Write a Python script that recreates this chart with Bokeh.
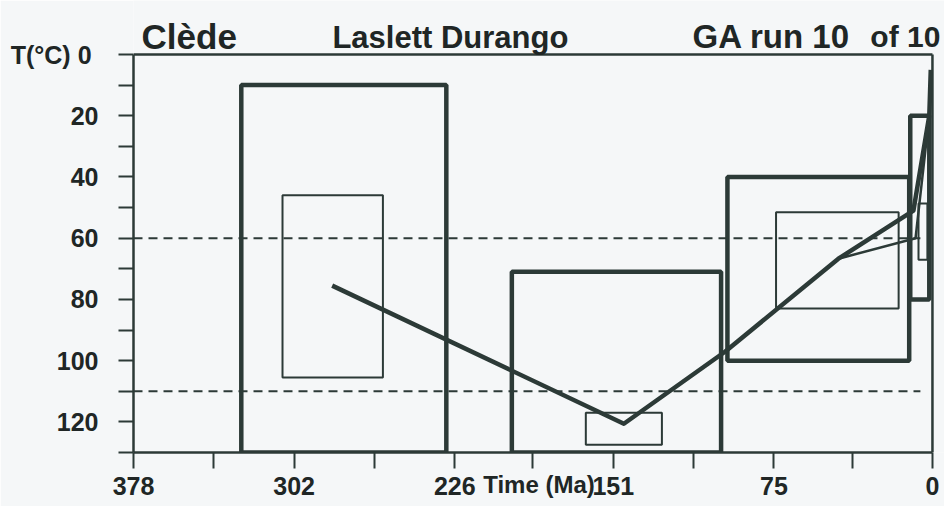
from bokeh.plotting import figure
from bokeh.models import Range1d, FixedTicker, Label
from bokeh.embed import file_html
from bokeh.resources import INLINE

# ---- data ----
# outer (thick) constraint boxes: time in Ma, temperature in degC
box_left = [327, 199, 97, 10.5]
box_right = [230, 100, 11, 1.5]
box_top = [10, 71, 40, 20]
box_bottom = [130, 130, 100, 80]

# inner (thin) boxes
inner_left = [307.5, 164, 74, 6.6]
inner_right = [260, 128, 16, 2.4]
inner_top = [46, 117, 51.5, 48.7]
inner_bottom = [105.5, 127.5, 83, 67]

# best-fit thermal history path
path_t = [284, 146, 98, 44.5, 9, 1.5, 0.8]
path_T = [75.5, 120.6, 97, 66.7, 51, 20, 5]

# secondary path branch
alt_t = [44.5, 8, 1.5]
alt_T = [66.7, 60, 20]

# partial annealing zone limits
paz_T = [60, 110]
paz_t_start = 378
paz_t_end = 5.7

t_max, t_min = 378, 0
T_min, T_max = 0, 130

x_ticks = [378, 302, 226, 151, 75, 0]
x_minor = [340, 264, 189, 113, 38]
y_ticks = [0, 20, 40, 60, 80, 100, 120]
y_minor = [10, 30, 50, 70, 90, 110, 130]

INK = "#2c3a37"
TXT = "#202625"
BG = "#f5f7f8"
FONT = "Liberation Sans"

p = figure(width=944, height=506, output_backend="svg", toolbar_location=None,
           x_range=Range1d(378, -5.7), y_range=Range1d(130, -17.64),
           min_border_left=133, min_border_right=0, min_border_top=0, min_border_bottom=54)
p.background_fill_color = BG
p.border_fill_color = BG
p.outline_line_color = None
p.grid.visible = False

# axes
for ax in (p.xaxis[0], p.yaxis[0]):
    ax.axis_line_color = INK
    ax.axis_line_width = 2.5
    ax.major_tick_line_color = INK
    ax.minor_tick_line_color = INK
    ax.major_tick_line_width = 2
    ax.minor_tick_line_width = 2
    ax.major_tick_in = 0
    ax.minor_tick_in = 0
    ax.major_label_text_font = FONT
    ax.major_label_text_font_style = "bold"
    ax.major_label_text_font_size = "25px"
    ax.major_label_text_color = TXT

p.xaxis.bounds = (t_min, t_max)
p.xaxis.ticker = FixedTicker(ticks=x_ticks, minor_ticks=x_minor)
p.xaxis.major_tick_out = 16
p.xaxis.minor_tick_out = 16
p.xaxis.major_label_standoff = 8
p.xaxis.axis_label = "Time (Ma)"
p.xaxis.axis_label_text_font = FONT
p.xaxis.axis_label_text_font_style = "bold"
p.xaxis.axis_label_text_font_size = "24px"
p.xaxis.axis_label_text_color = TXT
p.xaxis.axis_label_standoff = -27

p.yaxis.bounds = (T_min, T_max)
p.yaxis.ticker = FixedTicker(ticks=y_ticks, minor_ticks=y_minor)
p.yaxis.major_tick_out = 15
p.yaxis.minor_tick_out = 15
p.yaxis.major_label_standoff = 20
p.yaxis.major_label_overrides = {0: "T(°C)  0"}

# frame lines (top and right)
p.line([t_max, t_min], [T_min, T_min], line_color=INK, line_width=2.5)
p.line([t_min, t_min], [T_min, T_max], line_color=INK, line_width=2.5)

# PAZ dashed lines
for T in paz_T:
    p.line([paz_t_start, paz_t_end], [T, T], line_color=INK, line_width=2, line_dash="9 6")

# boxes
p.quad(left=box_left, right=box_right, top=box_top, bottom=box_bottom,
       fill_alpha=0, line_color=INK, line_width=4.5)
p.quad(left=inner_left, right=inner_right, top=inner_top, bottom=inner_bottom,
       fill_alpha=0, line_color=INK, line_width=2)

# paths
p.line(alt_t, alt_T, line_color=INK, line_width=2.5)
p.line(path_t, path_T, line_color=INK, line_width=4.5, line_join="round")

# texts
def lab(x, y, text, size, align="left", baseline="alphabetic"):
    p.add_layout(Label(x=x, y=y, text=text, text_font=FONT, text_font_style="bold",
                       text_font_size=size, text_color=TXT, text_align=align,
                       text_baseline=baseline))

lab(374.2, -5.9, "Clède", "35px")
lab(283.9, -5.55, "Laslett Durango", "31px")
lab(113.5, -5.9, "GA run 10", "33px")
lab(29.4, -5.9, "of 10", "30px")

open("out.html", "w").write(file_html(p, INLINE))
